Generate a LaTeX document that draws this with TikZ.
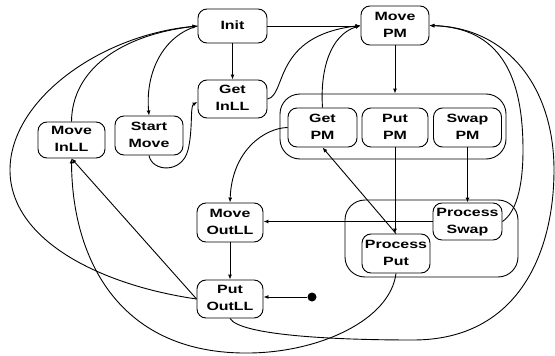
\documentclass[tikz,border=0pt]{standalone}
\usepackage{fontspec}
\setmainfont{Liberation Sans}
\usetikzlibrary{arrows.meta,calc}
\newcommand\tx[1]{\scalebox{1.33}[1]{\begin{tabular}{@{}c@{}}#1\end{tabular}}}
\begin{document}
\begin{tikzpicture}[x=1pt,y=-1pt,line width=0.9pt,
  st/.style={draw,rounded corners=9pt,inner sep=0pt,font=\fontsize{12}{17}\selectfont\bfseries},
  grp/.style={draw,rounded corners=20pt,inner sep=0pt},
  arr/.style={-{Latex[length=5pt,width=4pt]}}]
\useasboundingbox (0,0) rectangle (555,356);
% containers
\node[grp,minimum width=226pt,minimum height=65pt] (c1) at (393,126.5) {};
\node[grp,minimum width=173pt,minimum height=77pt] (c2) at (431.5,238.5) {};
% states
\node[st,minimum width=69pt,minimum height=34pt] (init) at (232.5,26) {\tx{Init}};
\node[st,minimum width=69pt,minimum height=38pt] (gin) at (232.5,99) {\tx{Get\\InLL}};
\node[st,minimum width=68pt,minimum height=39pt] (mpm) at (395,25.5) {\tx{Move\\PM}};
\node[st,minimum width=67pt,minimum height=36pt] (mil) at (71.5,140) {\tx{Move\\InLL}};
\node[st,minimum width=68pt,minimum height=39pt] (sm) at (149,135.5) {\tx{Start\\Move}};
\node[st,minimum width=69pt,minimum height=39pt] (gpm) at (322.5,127.5) {\tx{Get\\PM}};
\node[st,minimum width=66pt,minimum height=39pt] (ppm) at (395,127.5) {\tx{Put\\PM}};
\node[st,minimum width=68pt,minimum height=39pt] (spm) at (467.5,127.5) {\tx{Swap\\PM}};
\node[st,minimum width=69pt,minimum height=37pt] (ps) at (467.5,221.5) {\tx{Process\\Swap}};
\node[st,minimum width=68pt,minimum height=39pt] (ppt) at (396,253.5) {\tx{Process\\Put}};
\node[st,minimum width=66pt,minimum height=39pt] (mol) at (230,222.5) {\tx{Move\\OutLL}};
\node[st,minimum width=66pt,minimum height=38pt] (pol) at (230,299) {\tx{Put\\OutLL}};
\node[circle,fill,inner sep=0pt,minimum size=9pt] (dot) at (312,297) {};
% connectors
\draw[arr] (init.east) -- (init.east -| mpm.west);
\draw[arr] (init) -- (gin);
\draw[arr] (gin.east) .. controls (287,95) and (272,36) .. (mpm.west);
\draw[arr] (init.west) .. controls (165,35) and (145,70) .. (sm.north);
\draw[arr] (sm.south) .. controls (152,172) and (182,174) .. (188,150) .. controls (193,130) and (190,106) .. ($(gin.west)+(0,3)$);
\draw[arr] (mil.north) .. controls (72,70) and (120,35) .. (init.west);
\draw[arr] (pol.west) .. controls (100,285) and (10,240) .. (10,170) .. controls (10,100) and (100,35) .. (init.west);
\draw[arr] (pol.west) -- (mil.south);
\draw[arr] (ppt.south) .. controls (390,320) and (320,352) .. (250,353) .. controls (120,355) and (72,260) .. (mil.south);
\draw[arr] (pol.south) .. controls (240,335) and (330,340) .. (413,340) .. controls (520,340) and (554,250) .. (554,170) .. controls (554,90) and (510,28) .. (mpm.east);
\draw[arr] (ps.east) .. controls (515,213) and (523,190) .. (523,150) .. controls (523,75) and (500,28) .. (mpm.east);
\draw[arr] (gpm.north) .. controls (320,70) and (330,35) .. (mpm.west);
\draw[arr] (mpm.south) -- (mpm.south |- c1.north);
\draw[arr] (gpm.west) .. controls (265,128) and (232,150) .. (mol.north);
\draw[arr] (mol) -- (pol);
\draw[arr] (ppm.south) -- (ppm.south |- ppt.north);
\draw[arr] (spm.south) -- (spm.south |- ps.north);
\draw[arr] (ps.west) -- (ps.west -| mol.east);
\draw[arr] (ppt.north) -- (gpm.south);
\draw[arr] (dot) -- (dot -| pol.east);
\end{tikzpicture}
\end{document}
